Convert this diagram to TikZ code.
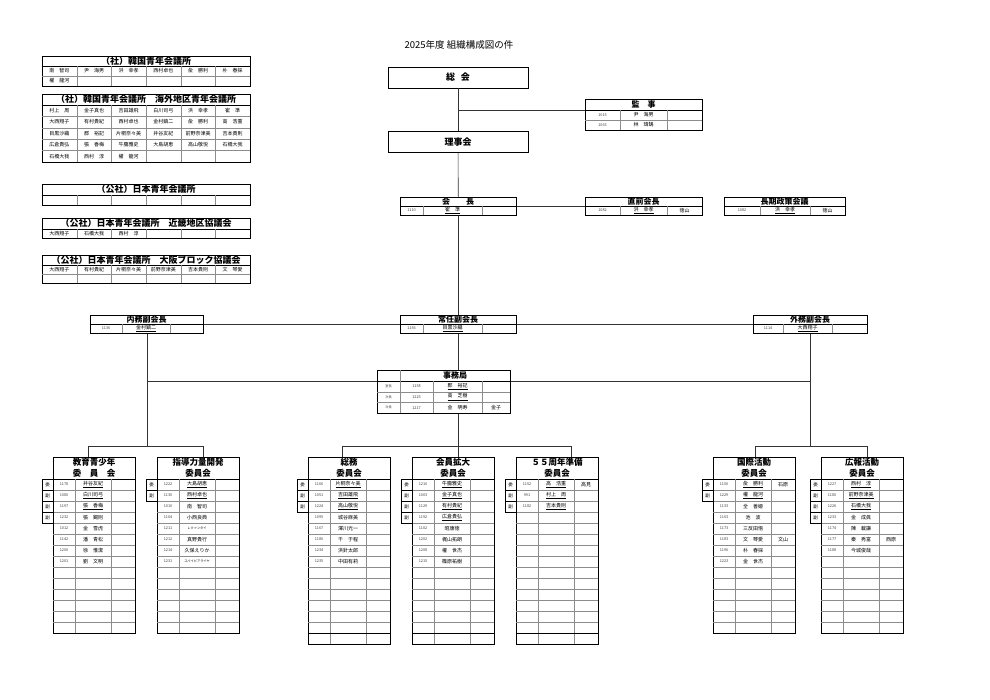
\documentclass[tikz,border=0pt]{standalone}
\usepackage{fontspec}
\setmainfont{Noto Sans CJK JP}
\usetikzlibrary{positioning,calc}

\newcommand{\numfont}{\fontsize{3.8}{4}\selectfont}
\newcommand{\namefont}{\fontsize{5}{6}\selectfont}
\newcommand{\tinyfont}{\fontsize{3.2}{4}\selectfont}

\tikzset{
    % Outer frame of a table
    tablebox/.style={
        draw=black,
        fill=white,
        line width=0.7pt,
        anchor=north west,
        inner sep=0pt,
        minimum width=#1
    },
    % Inner grid lines
    gridline/.style={
        draw=black!45,
        line width=0.3pt
    },
    % Rule under a title row
    titlerule/.style={
        draw=black,
        line width=0.6pt
    },
    % Connector lines
    conline/.style={
        draw=black!80,
        line width=0.6pt
    },
    % Title of a position table
    tabletitle/.style={
        inner sep=0pt,
        font=\fontsize{8}{8}\selectfont\bfseries
    },
    % Title of a member grid
    gridtitle/.style={
        inner sep=0pt,
        font=\fontsize{9}{9}\selectfont\bfseries
    },
    % Title of a committee
    cmtetitle/.style={
        inner sep=0pt,
        align=center,
        font=\fontsize{8.5}{11}\selectfont\bfseries
    },
    numtext/.style={
        inner sep=0pt,
        font=\numfont,
        text=black!75
    },
    nametext/.style={
        inner sep=0pt,
        font=\namefont
    },
    % Role mark left of a committee table
    rolecell/.style={
        draw=black,
        fill=white,
        line width=0.6pt,
        inner sep=0pt,
        minimum width=11pt,
        minimum height=11pt,
        font=\fontsize{4.5}{5}\selectfont
    },
    % Large box (general meeting, board)
    bigbox/.style={
        draw=black,
        fill=white,
        line width=0.7pt,
        inner sep=0pt,
        minimum width=140pt,
        minimum height=21pt,
        font=\fontsize{9}{9}\selectfont\bfseries
    }
}

% Member grid of six columns (top left)
\newcommand{\gridbox}[7]{%
    \pgfmathsetmacro{\gh}{#4+#5*#6}
    \node[tablebox=208pt, minimum height=\gh pt] (#1) at (42,#2) {};
    \node[gridtitle] (#1-title) at (146,#2+#4/2) {#3};
    \draw[titlerule] (42,#2+#4) -- (250,#2+#4);
    \foreach \k in {1,...,5}
        \draw[gridline] (42+34.667*\k,#2+#4) -- (42+34.667*\k,#2+\gh);
    \ifnum#6>1
        \foreach \k in {2,...,#6}
            \draw[gridline] (42,#2+#4+#5*\k-#5) -- (250,#2+#4+#5*\k-#5);
    \fi
    \foreach \nm [count=\k] in {#7}{
        \pgfmathtruncatemacro{\gcol}{mod(\k-1,6)}
        \pgfmathtruncatemacro{\grow}{div(\k-1,6)}
        \node[nametext] (#1-\k) at (59.333+34.667*\gcol,#2+#4+#5*\grow+#5/2) {\nm};
    }
}

% Position table: heights set with \posheights
\newcommand{\posheights}[3]{\def\pth{#1}\def\prh{#2}\def\prows{#3}}
\newcommand{\postable}[8]{%
    \pgfmathsetmacro{\ph}{\pth+\prows*\prh}
    \node[tablebox=#4pt, minimum height=\ph pt] (#1) at (#2,#3) {};
    \node[tabletitle] (#1-title) at (#2+#4/2,#3+\pth/2) {#7};
    \draw[titlerule] (#2,#3+\pth) -- (#2+#4,#3+\pth);
    \draw[gridline] (#5,#3+\pth) -- (#5,#3+\ph) (#6,#3+\pth) -- (#6,#3+\ph);
    \foreach \n/\m/\e [count=\k] in {#8}{
        \ifnum\k>1 \draw[gridline] (#2,#3+\pth+\k*\prh-\prh) -- (#2+#4,#3+\pth+\k*\prh-\prh); \fi
        \node[numtext] (#1-n\k) at ({(#2+#5)/2},#3+\pth+\k*\prh-\prh/2) {\n};
        \node[nametext] (#1-m\k) at ({(#5+#6)/2},#3+\pth+\k*\prh-\prh/2) {\m};
        \node[nametext] (#1-e\k) at ({(#6+#2+#4)/2},#3+\pth+\k*\prh-\prh/2) {\e};
    }
}

% Committee table
\newcommand{\cmtebox}[7]{%
    \pgfmathsetmacro{\cb}{479+11*#5}
    \node[tablebox=82pt, minimum height={22pt+11pt*#5}] (#1) at (#2,457) {};
    \node[cmtetitle] (#1-title) at (#2+41,468) {#3\\#4};
    \draw[titlerule] (#2,479) -- (#2+82,479);
    \draw[gridline] (#2+22,479) -- (#2+22,\cb) (#2+58,479) -- (#2+58,\cb);
    \foreach \k in {2,...,#5}
        \draw[gridline] (#2,468+11*\k) -- (#2+82,468+11*\k);
    \foreach \rl [count=\k] in {#6}
        \node[rolecell] (#1-r\k) at (#2-5.5,473.5+11*\k) {\rl};
    \foreach \n/\m/\e [count=\k] in {#7}{
        \node[numtext] (#1-n\k) at (#2+11,473.5+11*\k) {\n};
        \node[nametext] (#1-m\k) at (#2+40,473.5+11*\k) {\m};
        \node[nametext] (#1-e\k) at (#2+70,473.5+11*\k) {\e};
    }
}

\begin{document}
\begin{tikzpicture}[x=1pt, y=-1pt]
    \fill[white] (0,0) rectangle (990,700);
    \useasboundingbox (0,0) rectangle (990,700);

    % Heading
    \node[font=\fontsize{9.5}{10}\selectfont] (heading) at (459,45) {2025年度 組織構成図の件};

    % Member grids, top left
    \gridbox{kjc}{56}{（社）韓国青年会議所}{10}{10}{2}{南　智司,尹　海男,洪　幸孝,西村卓也,兪　勝利,朴　春採,權　龍河}
    \gridbox{kjcover}{94}{（社）韓国青年会議所　海外地区青年会議所}{11}{11.4}{5}{村上　周,金子真也,吉田雄飛,白川司弓,洪　幸孝,崔　準,大西翔子,有村貴紀,西村卓也,金村鎮二,兪　勝利,高　浩重,目黒沙織,郡　裕記,片桐奈々美,井谷友紀,前野奈津美,吉本貴則,広倉貴弘,張　香梅,牛膓雅史,大島胡恵,高山敬悦,石橋大我,石橋大我,西村　淳,權　龍河}
    \gridbox{jjc}{184}{（公社）日本青年会議所}{11}{10}{1}{}
    \gridbox{jjckinki}{218}{（公社）日本青年会議所　近畿地区協議会}{11}{9}{1}{大西翔子,石橋大我,西村　淳}
    \gridbox{jjcosaka}{255}{（公社）日本青年会議所　大阪ブロック協議会}{10}{9}{2}{大西翔子,有村貴紀,片桐奈々美,前野奈津美,吉本貴則,文　琴愛}

    % General meeting and board
    \node[bigbox] (sokai) at (458,77.5) {総\hspace{6pt}会};
    \node[bigbox] (rijikai) at (458,142) {理事会};

    % Auditors
    \posheights{11}{10}{2}
    \postable{kanji}{585}{99}{117}{620}{667}{監　事}{1015/尹　海男/,1063/林　瑋鵠/}

    % President row
    \posheights{9}{9}{1}
    \postable{kaicho}{400}{197}{116}{423}{482}{会　　長}{1110/\underline{崔　準}/}
    \postable{zenkaicho}{585}{197}{117}{620}{667}{直前会長}{1082/\underline{洪　幸孝}/徳山}
    \postable{choki}{724}{197}{121}{760}{810}{長期政策会議}{1082/\underline{洪　幸孝}/徳山}

    % Vice presidents
    \postable{naimu}{90}{315}{113}{122}{170}{内務副会長}{1136/\underline{金村鎮二}/}
    \postable{jonin}{400}{315}{116}{423}{482}{常任副会長}{1156/\underline{目黒沙織}/}
    \postable{gaimu}{753}{315}{114}{783}{832}{外務副会長}{1114/\underline{大西翔子}/}

    % Secretariat
    \node[tablebox=133pt, minimum height=43pt] (jimu) at (377,370) {};
    \node[tabletitle] (jimu-title) at (455,375.5) {事務局};
    \draw[titlerule] (377,381) -- (510,381);
    \draw[gridline] (400,370) -- (400,413) (433,381) -- (433,413) (482,381) -- (482,413);
    \draw[gridline] (377,391.7) -- (510,391.7) (377,402.3) -- (510,402.3);
    \foreach \p/\n/\m/\e [count=\k] in {室長/1158/\underline{郡　裕記}/,次長/1225/\underline{高　芝樹}/,次長/1217/金　明寿/金子}{
        \node[numtext, font=\tinyfont] (jimu-p\k) at (388.5,375.7+10.67*\k) {\p};
        \node[numtext] (jimu-n\k) at (416.5,375.7+10.67*\k) {\n};
        \node[nametext] (jimu-m\k) at (457.5,375.7+10.67*\k) {\m};
        \node[nametext] (jimu-e\k) at (496,375.7+10.67*\k) {\e};
    }

    % Committees
    \cmtebox{kyoiku}{53}{教育青少年}{委　員　会}{14}{委,副,副,副}{1178/\underline{井谷友紀}/,1080/\underline{白川司弓}/,1197/\underline{張　香梅}/,1232/張　錫則/,1012/金　雪虎/,1142/潘　青松/,1200/徐　惟潔/,1201/劉　文明/}
    \cmtebox{shidou}{157}{指導力量開発}{委員会}{14}{委,副}{1222/\underline{大島胡恵}/,1130/\underline{西村卓也}/,1010/南　智司/,1164/小西良典/,1211/{\tinyfont レクァンタイ}/,1212/真野貴行/,1214/久保えりか/,1231/{\tinyfont スパイピアライヤ}/}
    \cmtebox{soumu}{308}{総務}{委員会}{15}{委,副,副}{1166/\underline{片桐奈々美}/,1051/\underline{吉田雄飛}/,1224/\underline{高山敬悦}/,1095/城谷麻美/,1167/澤川光一/,1186/千　于程/,1234/洪針太郎/,1235/中田有莉/}
    \cmtebox{kaiin}{412}{会員拡大}{委員会}{15}{委,副,副,副}{1216/\underline{牛膓雅史}/,1003/\underline{金子真也}/,1129/\underline{有村貴紀}/,1192/\underline{広倉貴弘}/,1102/昭康徳/,1202/梶山拓朗/,1208/權　世杰/,1215/篠原祐樹/}
    \cmtebox{shuunen}{516}{５５周年準備}{委員会}{15}{委,副,副}{1152/\underline{高　浩重}/高見,991/\underline{村上　周}/,1182/\underline{吉本貴則}/}
    \cmtebox{kokusai}{713}{国際活動}{委員会}{14}{委,副}{1150/\underline{兪　勝利}/石原,1229/\underline{權　龍河}/,1133/全　善姫/,1163/池　波/,1173/三反田悟/,1183/文　琴愛/文山,1196/朴　春採/,1223/金　世杰/}
    \cmtebox{kouhou}{821}{広報活動}{委員会}{14}{委,副,副,副}{1227/\underline{西村　淳}/,1180/\underline{前野奈津美}/,1226/\underline{石橋大我}/,1233/金　成眞/,1174/陳　載謙/,1177/秦　秀富/西原,1188/今城俊哉/}
    \draw[titlerule] (308,633) -- (390,633) (412,633) -- (494,633) (516,633) -- (598,633);

    % Connectors
    \coordinate (kanjibranch) at (458,110);
    \draw[conline] (sokai) -- (rijikai);
    \draw[conline] (kanjibranch) -- (kanjibranch -| kanji.west);
    \draw[conline] (rijikai) -- (kaicho);
    \draw[conline] (kaicho.east) -- (zenkaicho.west);
    \draw[conline] (kaicho) -- (jonin);
    \draw[conline] (naimu.east) -- (jonin.west);
    \draw[conline] (jonin.east) -- (gaimu.west);
    \draw[conline] (jonin.south) -- (jonin.south |- jimu.north);

    % Line through the secretariat
    \coordinate (midL) at (naimu.south |- 0,381);
    \coordinate (midR) at (gaimu.south |- 0,381);
    \draw[conline] (midL) -- (midL -| jimu.west);
    \draw[conline] (midR -| jimu.east) -- (midR);

    % Drops to the committee buses
    \coordinate (dropL) at (naimu.south |- 0,446);
    \coordinate (dropM) at (jonin.south |- 0,446);
    \coordinate (dropR) at (gaimu.south |- 0,446);
    \draw[conline] (naimu) -- (dropL);
    \draw[conline] (gaimu) -- (dropR);
    \draw[conline] (dropM |- jimu.south) -- (dropM);

    % Committee buses
    \coordinate (b-kyoiku) at (88,446);
    \coordinate (b-shidou) at (203,446);
    \coordinate (b-soumu) at (342,446);
    \coordinate (b-kaiin) at (458,446);
    \coordinate (b-shuunen) at (571,446);
    \coordinate (b-kokusai) at (755,446);
    \coordinate (b-kouhou) at (867,446);
    \draw[conline] (b-kyoiku) -- (b-shidou);
    \draw[conline] (b-soumu) -- (b-shuunen);
    \draw[conline] (b-kokusai) -- (b-kouhou);
    \foreach \c in {kyoiku,shidou,soumu,kaiin,shuunen,kokusai,kouhou}
        \draw[conline] (b-\c) -- (b-\c |- \c.north);
\end{tikzpicture}
\end{document}
